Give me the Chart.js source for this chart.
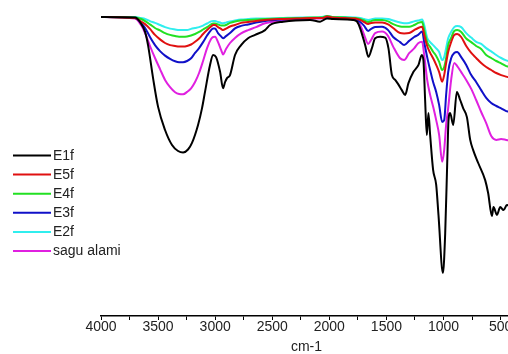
<!DOCTYPE html>
<html>
<head>
<meta charset="utf-8">
<script src="https://cdn.jsdelivr.net/npm/chart.js@4/dist/chart.umd.min.js"></script>
<style>
html,body{margin:0;padding:0;background:#fff;overflow:hidden;}
#wrap{width:508px;height:354px;overflow:hidden;position:relative;}
canvas{display:block;}
</style>
</head>
<body>
<div id="wrap"><canvas id="c" width="540" height="354"></canvas></div>
<script>
// Wavenumber grid (cm-1) for the five sample spectra
const wnGrid = [4000,3702,3649,3614,3571,3527,3483,3439,3395,3351,3316,3281,3246,3211,3176,3141,3106,3071,3036,3018,3001,2975,2948,2931,2905,2870,2826,2773,2712,2642,2563,2431,2256,2125,2063,2019,1976,1862,1774,1730,1695,1660,1634,1599,1538,1485,1441,1380,1345,1301,1257,1222,1187,1169,1143,1117,1091,1064,1038,1012,994,977,959,933,906,880,845,801,757,714,670,626,582,538,495,451,400];

const tE2f = [99.7,99.7,99.3,99.0,98.3,97.7,97.0,96.3,95.8,95.5,95.3,95.3,95.3,95.7,96.0,96.3,96.8,97.5,98.2,98.3,98.3,98.0,97.7,97.6,97.8,98.2,98.5,98.8,99.0,99.2,99.2,99.3,99.5,99.5,99.7,100.0,99.7,99.7,99.5,99.3,99.0,98.7,98.8,99.2,99.2,99.0,98.5,97.8,97.6,97.7,98.2,98.5,98.8,97.0,92.7,91.3,90.3,89.2,88.0,85.3,86.3,89.3,92.6,94.7,96.3,96.7,96.3,94.3,92.8,91.4,90.7,89.3,88.2,87.0,86.0,85.2,84.7];

const tE4f = [99.7,99.5,99.0,98.3,97.2,96.0,95.2,94.3,93.7,93.3,93.1,93.1,93.2,93.5,94.0,94.7,95.5,96.3,97.2,97.5,97.5,97.2,96.8,96.8,97.0,97.7,98.2,98.5,98.7,98.8,99.0,99.2,99.3,99.5,99.5,100.0,99.7,99.5,99.3,99.0,98.5,98.0,98.3,98.7,98.7,98.2,97.3,96.5,96.4,96.4,97.0,97.7,98.0,95.3,91.3,89.7,88.1,86.7,84.7,82.0,83.0,85.9,90.3,92.7,95.0,95.3,94.7,92.5,91.3,90.0,89.0,87.0,86.0,85.0,84.2,83.3,83.0];

const tE5f = [99.7,99.3,98.1,97.3,95.7,93.7,92.2,91.0,90.3,90.0,89.8,89.8,90.0,90.5,91.4,92.5,94.0,95.3,96.5,97.0,97.0,96.3,95.7,95.3,95.8,96.5,97.0,97.7,98.0,98.3,98.7,99.0,99.2,99.3,99.3,99.8,99.5,99.3,99.2,98.7,98.0,97.3,97.7,97.8,97.8,97.2,96.0,94.3,94.2,94.3,95.3,96.0,96.4,93.7,90.0,87.7,85.9,83.7,81.3,78.1,80.3,84.3,88.0,91.3,93.7,94.0,93.0,90.0,87.7,86.0,84.3,83.0,82.0,81.0,80.3,79.8,79.3];

const tE3f = [99.7,99.3,97.7,96.0,93.0,90.3,88.3,86.8,85.7,84.9,84.6,84.6,85.0,85.9,87.7,89.3,91.3,93.5,95.3,95.8,95.8,94.3,93.2,92.6,93.3,94.3,95.9,96.7,97.2,97.8,98.3,98.8,99.2,99.3,99.3,99.8,99.5,99.3,99.0,98.0,96.7,95.0,95.7,96.3,96.4,95.3,93.0,91.3,90.3,91.7,93.0,93.7,94.8,91.3,86.3,82.0,78.0,74.7,70.3,64.7,65.3,73.7,81.3,85.9,87.7,88.0,86.3,83.7,80.3,78.0,75.3,72.7,71.0,70.0,69.2,68.3,68.0];

const tSagu = [99.7,99.2,97.0,94.3,90.0,86.0,82.3,78.7,76.3,74.6,74.0,73.9,74.7,75.9,78.0,81.0,85.0,89.3,92.3,93.0,93.1,91.3,88.7,87.2,89.0,91.0,92.7,94.2,95.3,96.3,97.6,98.3,98.8,99.2,99.2,99.7,99.3,99.2,98.8,97.0,93.7,90.7,92.0,94.3,94.8,93.3,89.8,85.9,85.3,87.6,89.2,90.9,91.4,87.0,78.7,73.7,69.8,65.3,60.3,51.4,55.3,63.7,69.3,78.7,84.3,83.3,81.3,78.7,75.7,72.0,68.0,64.3,60.0,58.7,59.0,58.7,58.3];

// E1f has its own wavenumber sampling
const wnE1f = [4000,3702,3658,3614,3588,3544,3500,3439,3378,3325,3281,3238,3203,3150,3115,3089,3045,3018,2992,2957,2931,2913,2896,2870,2826,2773,2712,2650,2563,2519,2405,2168,2081,2019,1967,1792,1757,1730,1686,1657,1628,1599,1555,1511,1482,1452,1423,1397,1365,1336,1307,1263,1219,1190,1176,1161,1146,1132,1117,1091,1064,1044,1005,985,968,956,942,915,883,854,828,795,766,740,696,635,609,576,562,532,503,474,445,398];
const tE1f = [99.7,99.5,98.0,94.7,90.3,79.3,69.7,62.0,57.0,55.0,54.5,55.5,57.7,63.7,69.3,74.7,83.7,87.0,86.3,81.4,75.9,78.0,79.3,80.3,87.0,90.3,92.6,93.7,95.3,97.0,98.1,98.7,98.1,99.2,99.0,98.7,98.1,95.9,90.3,86.4,89.2,92.6,93.1,92.8,89.2,80.3,78.7,77.3,75.3,73.7,77.6,81.4,83.7,87.0,85.3,72.0,60.3,67.7,60.3,48.7,43.7,33.7,14.3,27.7,50.3,65.3,67.7,63.7,74.7,72.0,69.3,66.3,58.7,55.3,51.0,45.3,41.0,33.3,36.3,33.7,36.3,35.3,37.0,36.3];

const seriesLabels = ['E1f','E5f','E4f','E3f','E2f','sagu alami'];
const seriesColors = ['#000000','#e01010','#22e022','#1010c8','#30eeee','#e020e0'];
const xTicksMajor = [4000,3500,3000,2500,2000,1500,1000,500];
const xTitle = 'cm-1';

function pts(xs, ys){ return xs.map((x,i)=>({x:x, y:ys[i]})); }
const seriesData = [pts(wnE1f,tE1f), pts(wnGrid,tE5f), pts(wnGrid,tE4f), pts(wnGrid,tE3f), pts(wnGrid,tE2f), pts(wnGrid,tSagu)];

const FONT = '"Liberation Sans", Arial, sans-serif';

const legendPlugin = {
  id: 'leftLegend',
  afterDraw(chart){
    const ctx = chart.ctx;
    ctx.save();
    ctx.font = '14px ' + FONT;
    ctx.textBaseline = 'middle';
    ctx.textAlign = 'left';
    chart.data.datasets.forEach((ds, i) => {
      const y = 155.5 + i * 19.1;
      ctx.strokeStyle = ds.borderColor;
      ctx.lineWidth = 2;
      ctx.beginPath();
      ctx.moveTo(13, y);
      ctx.lineTo(51, y);
      ctx.stroke();
      ctx.fillStyle = '#222';
      ctx.fillText(ds.label, 53, y + 0.5);
    });
    ctx.restore();
  }
};

new Chart(document.getElementById('c'), {
  type: 'line',
  data: {
    datasets: seriesLabels.map((lab, i) => ({
      label: lab,
      data: seriesData[i],
      borderColor: seriesColors[i],
      backgroundColor: seriesColors[i],
      borderWidth: 2,
      pointRadius: 0,
      cubicInterpolationMode: 'monotone',
      fill: false,
      clip: false
    }))
  },
  options: {
    responsive: false,
    animation: false,
    events: [],
    layout: { padding: { left: 101, right: 28, top: 1, bottom: 0 } },
    plugins: { legend: { display: false }, tooltip: { enabled: false } },
    scales: {
      x: {
        type: 'linear',
        reverse: true,
        min: 400,
        max: 4000,
        afterFit(s){ s.height = 38; },
        border: { display: true, color: '#000', width: 1.5 },
        grid: { display: true, drawOnChartArea: false, drawTicks: true, tickLength: 4, color: '#000', lineWidth: 1 },
        ticks: {
          stepSize: 250,
          includeBounds: false,
          autoSkip: false,
          maxRotation: 0,
          padding: 0,
          color: '#222',
          font: { family: FONT, size: 14, lineHeight: 1 },
          callback: (v) => xTicksMajor.includes(v) ? String(v) : ''
        },
        title: { display: true, text: xTitle, color: '#222', font: { family: FONT, size: 14, lineHeight: 1 }, padding: { top: 0, bottom: 0 } }
      },
      y: {
        display: false,
        min: 0,
        max: 105
      }
    }
  },
  plugins: [legendPlugin]
});
</script>
</body>
</html>
